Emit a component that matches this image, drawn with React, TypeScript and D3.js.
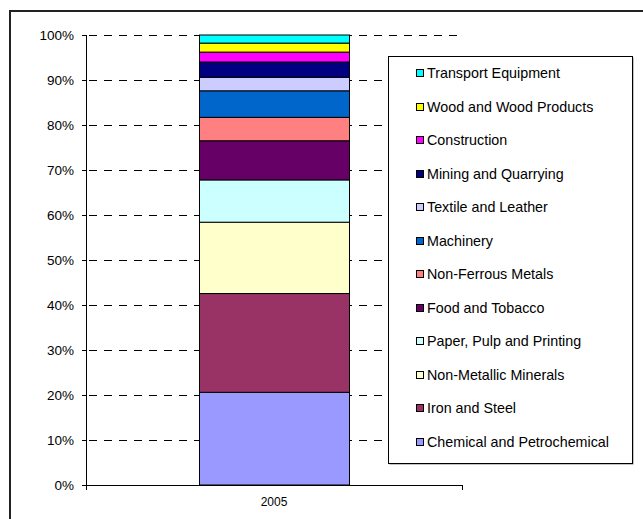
import React from "react";
import * as d3 from "d3";

const categories = ["2005"];
const seriesNames = [
  "Chemical and Petrochemical",
  "Iron and Steel",
  "Non-Metallic Minerals",
  "Paper, Pulp and Printing",
  "Food and Tobacco",
  "Non-Ferrous Metals",
  "Machinery",
  "Textile and Leather",
  "Mining and Quarrying",
  "Construction",
  "Wood and Wood Products",
  "Transport Equipment",
];
const seriesValues = [20.6, 21.95, 15.85, 9.4, 8.7, 5.2, 5.9, 3.0, 3.4, 2.2, 2.0, 1.8];
const seriesColors = [
  "#9999FF", "#993366", "#FFFFCC", "#CCFFFF", "#660066", "#FF8080",
  "#0066CC", "#CCCCFF", "#000080", "#FF00FF", "#FFFF00", "#00FFFF",
];
const yTicks = [0, 10, 20, 30, 40, 50, 60, 70, 80, 90, 100];

export default function App() {
  const W = 643, H = 519;
  const left = 86, right = 462, top = 35, bottom = 485;
  const y = d3.scaleLinear().domain([0, 100]).range([bottom, top]);
  const x = d3.scaleBand().domain(categories).range([left, right]).paddingInner(0.6).paddingOuter(0.3);
  const total = d3.sum(seriesValues);
  const normRow: Record<string, number> = {};
  seriesNames.forEach((n, i) => (normRow[n] = (seriesValues[i] / total) * 100));
  const stack = d3.stack<Record<string, number>>().keys(seriesNames);
  const stacked = stack([normRow]);
  const bw = 150;
  const cx = (x(categories[0]) as number) + x.bandwidth() / 2;
  const font = "'Liberation Sans', Arial, sans-serif";

  const legX = 388.5, legY = 56.5, legW = 244, legH = 407;
  const legendOrder = [...seriesNames].reverse();

  return (
    <div style={{ position: "absolute", left: 0, top: 0, width: W, height: H, background: "#fff" }}>
      <svg width={W} height={H} style={{ display: "block" }}>
        <rect x={0} y={0} width={W} height={H} fill="#fff" />
        <path d={`M10,${H + 5} L10,11 L${W + 5},11`} fill="none" stroke="#222" strokeWidth={2} />
        {/* gridlines */}
        {yTicks.filter((t) => t > 0).map((t) => (
          <line key={t} x1={left} x2={right} y1={Math.round(y(t)) + 0.5} y2={Math.round(y(t)) + 0.5}
            stroke="#000" strokeWidth={1} strokeDasharray="8,7" strokeDashoffset={-3} />
        ))}
        {/* bar */}
        {stacked.map((s, i) => (
          <rect key={s.key}
            x={Math.round(cx - bw / 2) + 0.5}
            y={y(s[0][1])}
            width={bw}
            height={y(s[0][0]) - y(s[0][1])}
            fill={seriesColors[i]} stroke="#000" strokeWidth={1} />
        ))}
        {/* y axis */}
        <line x1={left + 0.5} x2={left + 0.5} y1={top} y2={bottom + 1} stroke="#000" />
        {yTicks.map((t) => (
          <g key={t}>
            <line x1={left - 4} x2={left + 1} y1={Math.round(y(t)) + 0.5} y2={Math.round(y(t)) + 0.5} stroke="#000" />
            <text x={74} y={y(t)} dy="0.35em" textAnchor="end" fontFamily={font} fontSize={13.5} fill="#000">
              {t}%
            </text>
          </g>
        ))}
        {/* x axis */}
        <line x1={left} x2={right + 0.5} y1={bottom + 0.5} y2={bottom + 0.5} stroke="#000" />
        <line x1={right + 0.5} x2={right + 0.5} y1={bottom} y2={bottom + 5} stroke="#000" />
        <line x1={left + 0.5} x2={left + 0.5} y1={bottom} y2={bottom + 5} stroke="#000" />
        {categories.map((c) => (
          <text key={c} x={cx} y={502} dy="0.35em" textAnchor="middle" fontFamily={font} fontSize={12} fill="#000">
            {c}
          </text>
        ))}
        {/* legend */}
        <rect x={legX + 1} y={legY + 1} width={legW} height={legH} fill="#888" />
        <rect x={legX} y={legY} width={legW} height={legH} fill="#fff" stroke="#000" strokeWidth={1} />
        {legendOrder.map((n, i) => {
          const ly = 73 + i * 33.5;
          const ci = seriesNames.indexOf(n);
          return (
            <g key={n}>
              <rect x={416.5} y={Math.round(ly) - 3.5} width={7} height={7} fill={seriesColors[ci]} stroke="#000" />
              <text x={427} y={ly} dy="0.35em" fontFamily={font} fontSize={14.3} fill="#000">{n}</text>
            </g>
          );
        })}
      </svg>
    </div>
  );
}
